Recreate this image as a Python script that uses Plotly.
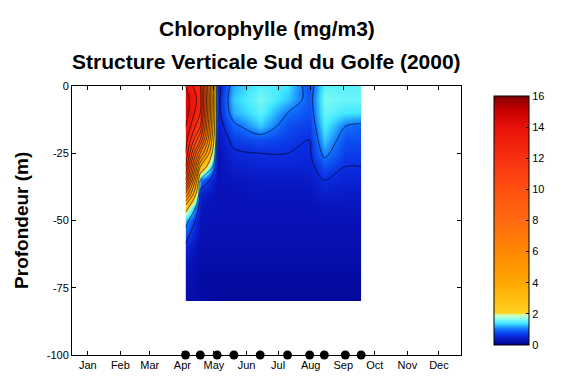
import plotly.graph_objects as go

# ---- data ----
months = ["Jan", "Feb", "Mar", "Apr", "May", "Jun", "Jul", "Aug", "Sep", "Oct", "Nov", "Dec"]
month_days = [15, 46, 74, 105, 135, 166, 196, 227, 258, 288, 319, 349]
sample_days = [108, 122, 138, 154, 179, 205, 226, 240, 260, 275]
depths = [0, -5, -10, -15, -20, -25, -30, -35, -40, -45, -50, -60, -70, -80]

# chlorophyll (mg/m3), one list per sampling date (top to bottom)
chl_cols = [
    [14.0, 14.5, 14.5, 14.0, 13.5, 13.0, 12.0, 10.0, 6.0, 2.5, 1.2, 0.5, 0.3, 0.25],
    [12.0, 12.5, 12.0, 11.0, 9.0, 6.0, 3.0, 1.0, 0.45, 0.35, 0.3, 0.25, 0.2, 0.2],
    [0.4, 0.45, 0.45, 0.4, 0.35, 0.3, 0.3, 0.3, 0.3, 0.3, 0.3, 0.25, 0.2, 0.15],
    [1.2, 1.3, 1.2, 0.9, 0.7, 0.55, 0.45, 0.35, 0.3, 0.3, 0.3, 0.25, 0.2, 0.15],
    [1.5, 1.6, 1.5, 1.3, 0.8, 0.6, 0.5, 0.4, 0.35, 0.3, 0.3, 0.25, 0.2, 0.15],
    [1.4, 1.3, 1.0, 0.8, 0.7, 0.6, 0.5, 0.4, 0.35, 0.3, 0.3, 0.25, 0.2, 0.15],
    [0.8, 0.85, 0.8, 0.7, 0.6, 0.55, 0.5, 0.4, 0.35, 0.3, 0.3, 0.25, 0.2, 0.15],
    [1.5, 1.6, 1.55, 1.45, 1.3, 1.1, 0.8, 0.6, 0.45, 0.35, 0.3, 0.25, 0.2, 0.15],
    [1.5, 1.55, 1.4, 1.0, 0.8, 0.7, 0.6, 0.5, 0.4, 0.35, 0.3, 0.25, 0.2, 0.15],
    [1.5, 1.55, 1.4, 0.9, 0.8, 0.7, 0.6, 0.5, 0.4, 0.35, 0.3, 0.25, 0.2, 0.15],
]
y_ticks = [0, -25, -50, -75, -100]
cbar_ticks = [0, 2, 4, 6, 8, 10, 12, 14, 16]

# z[row=depth][col=date]
z = [[chl_cols[c][r] for c in range(len(sample_days))] for r in range(len(depths))]

colorscale = [
    [0.0, "#00007f"],
    [0.019, "#0812b8"],
    [0.0375, "#0a2ce0"],
    [0.0625, "#1070ff"],
    [0.0875, "#40e8ff"],
    [0.105, "#90fff0"],
    [0.121, "#d0ffb0"],
    [0.128, "#ffd020"],
    [0.25, "#ffa800"],
    [0.375, "#ff8800"],
    [0.5, "#ff6a10"],
    [0.625, "#ff5010"],
    [0.75, "#f83010"],
    [0.875, "#e81008"],
    [0.95, "#c00000"],
    [1.0, "#800000"],
]

NARROW = "Liberation Sans Narrow, Arial Narrow, Liberation Sans, Arial, sans-serif"
TICKF = dict(family="Liberation Sans, Arial, sans-serif", size=11, color="black")

fig = go.Figure()
fig.add_trace(go.Contour(
    x=sample_days, y=depths, z=z,
    zmin=0, zmax=16, zauto=False,
    colorscale=colorscale, showscale=False,
    contours=dict(coloring="heatmap", start=1, end=15, size=1, showlines=True),
    line=dict(color="black", width=0.6),
    hoverinfo="skip",
))
fig.add_trace(go.Contour(
    x=sample_days, y=depths, z=z,
    showscale=False,
    contours=dict(coloring="none", start=0.6, end=0.6, size=1),
    line=dict(color="black", width=0.6),
    hoverinfo="skip",
))
# continuous colour bar
fig.add_trace(go.Scatter(
    x=[None], y=[None], mode="markers", showlegend=False, hoverinfo="skip",
    marker=dict(
        color=[0], cmin=0, cmax=16, colorscale=colorscale, showscale=True,
        colorbar=dict(
            x=1.06, xanchor="left", thickness=35, len=1.0, lenmode="fraction",
            y=0.5, yanchor="middle", outlinecolor="black", outlinewidth=1,
            tickvals=cbar_ticks, ticks="inside", ticklen=3, tickcolor="black",
            tickfont=TICKF,
        ),
    ),
))
fig.add_trace(go.Scatter(
    x=sample_days, y=[-100] * len(sample_days), mode="markers",
    marker=dict(color="black", size=9), cliponaxis=False, showlegend=False,
))

fig.update_layout(
    width=571, height=383,
    margin=dict(l=72, r=83, t=86, b=20),
    plot_bgcolor="white", paper_bgcolor="white",
    showlegend=False,
    xaxis=dict(
        range=[0, 370], tickvals=month_days, ticktext=months,
        showgrid=False, zeroline=False, showline=True, linecolor="black",
        linewidth=1, mirror="ticks", ticks="inside", ticklen=4,
        tickcolor="black", tickfont=TICKF,
    ),
    yaxis=dict(
        range=[-100, 0], tickvals=y_ticks, ticktext=[str(v) for v in y_ticks],
        showgrid=False, zeroline=False, showline=True, linecolor="black",
        linewidth=1, mirror="ticks", ticks="inside", ticklen=4,
        tickcolor="black", tickfont=TICKF,
    ),
    annotations=[
        dict(text="<b>Chlorophylle (mg/m3)</b>", xref="paper", yref="paper",
             x=0.5, y=1.213, xanchor="center", yanchor="middle",
             showarrow=False, font=dict(family=NARROW, size=21, color="black")),
        dict(text="<b>Structure Verticale Sud du Golfe (2000)</b>", xref="paper", yref="paper",
             x=0.5, y=1.09, xanchor="center", yanchor="middle",
             showarrow=False, font=dict(family=NARROW, size=21, color="black")),
        dict(text="<b>Profondeur (m)</b>", xref="paper", yref="paper",
             x=-0.13, xanchor="center", y=0.5, yanchor="middle", textangle=-90,
             showarrow=False, font=dict(family=NARROW, size=19, color="black")),
    ],
)

fig.write_html("out.html")
